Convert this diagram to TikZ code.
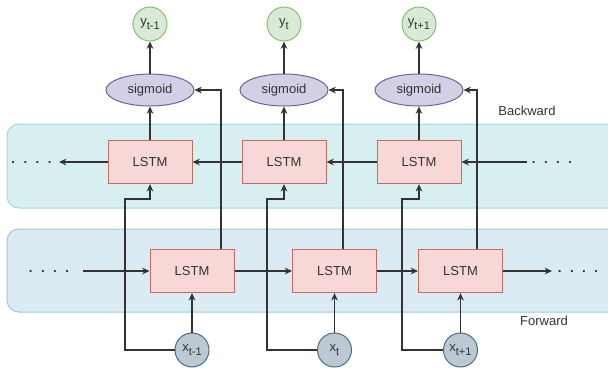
\documentclass[tikz,border=0pt]{standalone}
\usepackage{fontspec}
\setmainfont{Liberation Sans}
\usetikzlibrary{arrows.meta,shapes.geometric,calc}
\definecolor{bpfill}{HTML}{D8EFF2}
\definecolor{bpdraw}{HTML}{A6D6DC}
\definecolor{fpfill}{HTML}{DAEBF3}
\definecolor{fpdraw}{HTML}{A3C6DC}
\definecolor{lstmfill}{HTML}{F8D8D6}
\definecolor{lstmdraw}{HTML}{C56B66}
\definecolor{sigfill}{HTML}{D2D0E4}
\definecolor{sigdraw}{HTML}{6A659B}
\definecolor{yfill}{HTML}{D8EAD6}
\definecolor{ydraw}{HTML}{8DBB73}
\definecolor{xfill}{HTML}{BCC9D5}
\definecolor{xdraw}{HTML}{4F6B80}
\definecolor{ink}{HTML}{333333}
\newcommand{\mysub}[1]{\raisebox{-0.3em}{\fontsize{8.3}{9}\selectfont #1}}
\begin{document}
\begin{tikzpicture}[x=0.75pt,y=-0.75pt,
  every node/.style={font=\fontsize{9.75}{11.7}\selectfont, text=ink},
  panel/.style={rounded corners=9pt, line width=0.75pt},
  lstm/.style={draw=lstmdraw, fill=lstmfill, line width=0.75pt, minimum width=63pt, minimum height=32.5pt, inner sep=0pt},
  sig/.style={ellipse, draw=sigdraw, fill=sigfill, line width=0.75pt, minimum width=66pt, minimum height=24pt, inner sep=0pt},
  ycirc/.style={circle, draw=ydraw, fill=yfill, line width=0.75pt, minimum size=25.5pt, inner sep=0pt},
  xcirc/.style={circle, draw=xdraw, fill=xfill, line width=0.75pt, minimum size=25.5pt, inner sep=0pt},
  arr/.style={draw=ink, line width=0.85pt, -{Stealth[length=5.5pt,width=5pt]}},
  dots/.style={inner sep=0pt, font=\fontsize{10}{12}\selectfont\bfseries}
]
\useasboundingbox (0,0) rectangle (608,368);
% panels
\draw[panel, fill=bpfill, draw=bpdraw] (7,124) rectangle (620,208);
\draw[panel, fill=fpfill, draw=fpdraw] (7,229) rectangle (620,312);
\node at (527,111) {Backward};
\node at (544,321) {Forward};
% output circles
\node[ycirc] (y1) at (150,24) {y\mysub{t-1}};
\node[ycirc] (y2) at (284,24) {y\mysub{t}};
\node[ycirc] (y3) at (419,24) {y\mysub{t+1}};
% sigmoids
\node[sig] (s1) at (150,90) {sigmoid};
\node[sig] (s2) at (284,90) {sigmoid};
\node[sig] (s3) at (419,90) {sigmoid};
% backward LSTMs
\node[lstm] (b1) at (150,162) {LSTM};
\node[lstm] (b2) at (284,162) {LSTM};
\node[lstm] (b3) at (419,162) {LSTM};
% forward LSTMs
\node[lstm] (f1) at (192,271) {LSTM};
\node[lstm] (f2) at (334.5,271) {LSTM};
\node[lstm] (f3) at (460.5,271) {LSTM};
% inputs
\node[xcirc] (x1) at (192,350) {x\mysub{t-1}};
\node[xcirc] (x2) at (334.5,350) {x\mysub{t}};
\node[xcirc] (x3) at (460.5,350) {x\mysub{t+1}};
% dots
\node[dots] (dbl) at (31.5,163) {.\hspace{6.3pt}.\hspace{6.3pt}.\hspace{6.3pt}.};
\node[dots] (dbr) at (552,163) {.\hspace{6.3pt}.\hspace{6.3pt}.\hspace{6.3pt}.};
\node[dots] (dfl) at (49,272) {.\hspace{6.3pt}.\hspace{6.3pt}.\hspace{6.3pt}.};
\node[dots] (dfr) at (578,272) {.\hspace{6.3pt}.\hspace{6.3pt}.\hspace{6.3pt}.};
\coordinate (bl) at (59,162);
\coordinate (br) at (527,162);
\coordinate (fl) at (83,271);
\coordinate (fr) at (552,271);
\coordinate (k1) at (125,199);
\coordinate (k2) at (267,199);
\coordinate (k3) at (402,199);
% vertical stack
\foreach \i in {1,2,3} {
  \draw[arr] (b\i.north) -- (s\i.south);
  \draw[arr] (s\i.north) -- (y\i.south);
  \draw[arr] (x\i.north) -- (f\i.south);
  \draw[arr] (x\i.west) -| (k\i) -| (b\i.south);
}
% backward chain
\draw[arr] (br) -- (b3.east);
\draw[arr] (b3.west) -- (b2.east);
\draw[arr] (b2.west) -- (b1.east);
\draw[arr] (b1.west) -- (bl);
% forward chain
\draw[arr] (fl) -- (f1.west);
\draw[arr] (f1.east) -- (f2.west);
\draw[arr] (f2.east) -- (f3.west);
\draw[arr] (f3.east) -- (fr);
% forward to sigmoid
\draw[arr] ($(f1.north)+(29,0)$) |- (s1.east);
\draw[arr] ($(f2.north)+(8.5,0)$) |- (s2.east);
\draw[arr] ($(f3.north)+(16.5,0)$) |- (s3.east);
\end{tikzpicture}
\end{document}
